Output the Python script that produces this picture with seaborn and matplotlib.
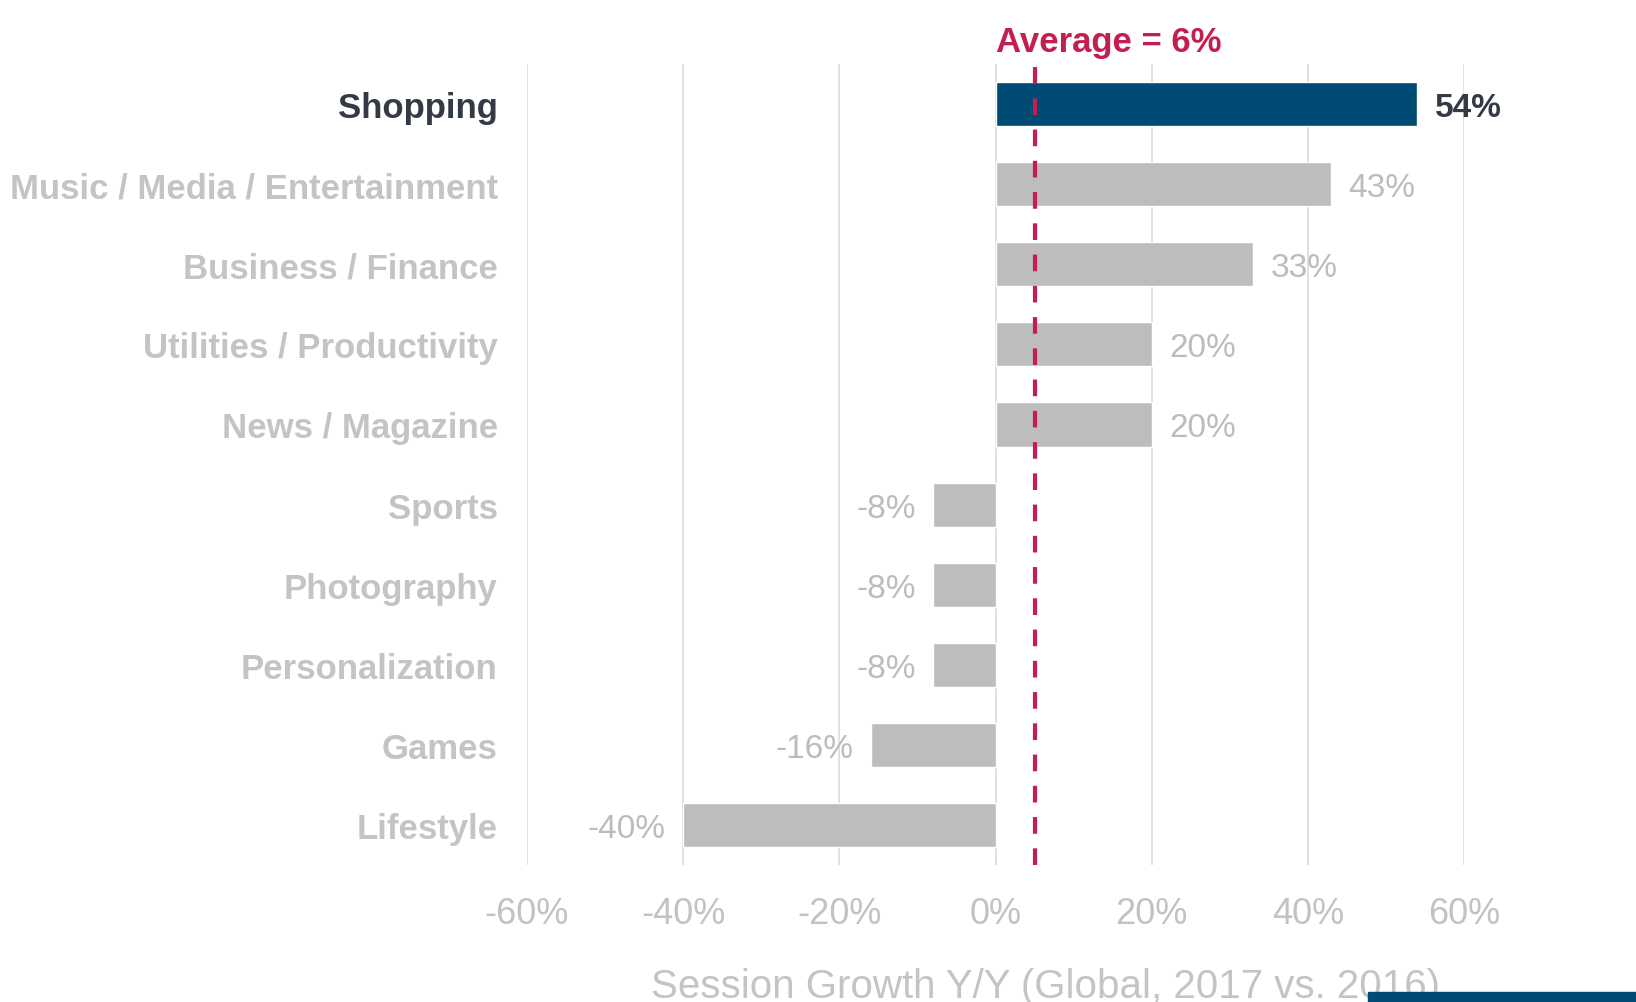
import matplotlib
matplotlib.use("Agg")
import matplotlib.pyplot as plt
import seaborn as sns
import pandas as pd
from matplotlib.patches import Rectangle

categories = ["Shopping", "Music / Media / Entertainment", "Business / Finance",
              "Utilities / Productivity", "News / Magazine", "Sports", "Photography",
              "Personalization", "Games", "Lifestyle"]
growth = [54, 43, 33, 20, 20, -8, -8, -8, -16, -40]
avg_label = 6
avg_line = 5
ticks = [-60, -40, -20, 0, 20, 40, 60]

df = pd.DataFrame({"category": categories, "growth": growth})

sns.set_theme(style="white")
plt.rcParams["font.family"] = ["Liberation Sans", "DejaVu Sans"]

fig = plt.figure(figsize=(16.36, 10.03), dpi=100)
ax = fig.add_axes([0.322, 0.1366, 0.573, 0.7985])

colors = ["#004b73"] + ["#bdbdbd"] * (len(categories) - 1)
sns.barplot(data=df, x="growth", y="category", hue="category", palette=colors,
            legend=False, width=0.55, saturation=1, ax=ax)

ax.set_xlim(-60, 60)
ax.set_ylim(len(categories) - 0.5, -0.5)
ax.set_xticks(ticks)
ax.set_xticklabels([f"{t}%" for t in ticks], fontsize=26, color="#c2c2c2")
ax.tick_params(axis="x", length=0, pad=22)
ax.tick_params(axis="y", length=0, pad=21)
ax.grid(axis="x", color="#dcdcdc", lw=1.2)
ax.set_axisbelow(True)
for s in ax.spines.values():
    s.set_visible(False)

for i, lab in enumerate(ax.get_yticklabels()):
    lab.set_fontsize(25)
    lab.set_fontweight("bold")
    lab.set_color("#333a45" if i == 0 else "#c4c4c4")

for i, v in enumerate(growth):
    if v >= 0:
        ax.text(v + 2.2, i, f"{v}%", va="center_baseline", ha="left", fontsize=24,
                color="#333a45" if i == 0 else "#bcbcbc",
                fontweight="bold" if i == 0 else "normal")
    else:
        ax.text(v - 2.2, i, f"{v}%", va="center_baseline", ha="right", fontsize=24,
                color="#bcbcbc")

ax.axvline(avg_line, ymin=0, ymax=1, color="#c41e50", lw=3, ls=(0, (4, 3.5)))
ax.text(0, -0.5 - 0.32, f"Average = {avg_label}%", ha="left", va="center_baseline",
        fontsize=25, fontweight="bold", color="#c41e50", clip_on=False)

ax.set_ylabel("")
ax.set_xlabel("Session Growth Y/Y (Global, 2017 vs. 2016)", fontsize=29,
              color="#c4c4c4", labelpad=26, x=0.553)

fig.patches.append(Rectangle((0.836, 0.0), 0.164, 0.01, transform=fig.transFigure,
                             color="#004b73", zorder=5))

fig.savefig("out.png", dpi=100)
